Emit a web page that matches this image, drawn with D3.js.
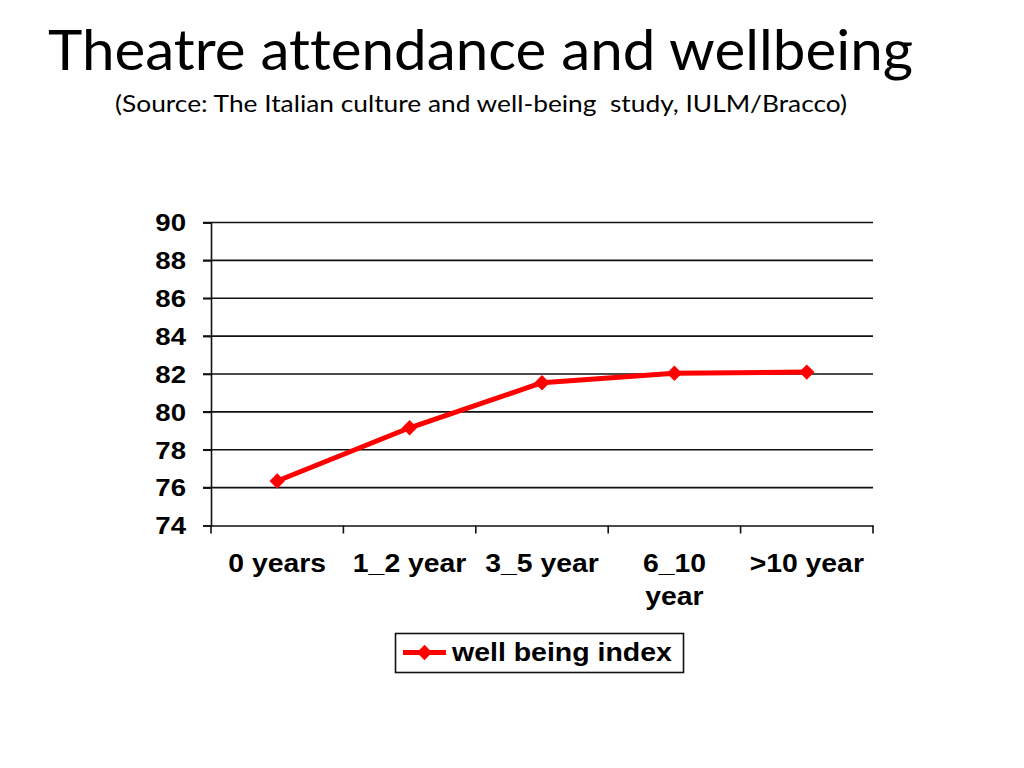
<!DOCTYPE html>
<html><head><meta charset="utf-8">
<script src="https://cdn.jsdelivr.net/npm/d3@7"></script>
<style>body{margin:0;background:#fff}svg{display:block}text{font-variant-ligatures:none}</style>
</head><body>
<svg id="c" width="1024" height="768"></svg>
<script>
const categories = [["0 years"], ["1_2 year"], ["3_5 year"], ["6_10", "year"], [">10 year"]];
const categoryKeys = ["0 years", "1_2 year", "3_5 year", "6_10 year", ">10 year"];
const wellBeing = [76.35, 79.16, 81.54, 82.04, 82.1];
const yTicks = [74, 76, 78, 80, 82, 84, 86, 88, 90];
const seriesName = "well being index";
const titleText = "Theatre attendance and wellbeing";
const subtitleText = "(Source: The Italian culture and well-being  study, IULM/Bracco)";

const svg = d3.select("#c");
const pLeft = 211, pRight = 873, pTop = 222.5, pBottom = 525.5;
const x = d3.scaleBand().domain(categoryKeys).range([pLeft, pRight]);
const y = d3.scaleLinear().domain([74, 90]).range([pBottom, pTop]);

function stretch(sel, f) {
  sel.each(function() {
    const L = this.getComputedTextLength();
    d3.select(this).attr("textLength", L * f).attr("lengthAdjust", "spacingAndGlyphs");
  });
}

const t1 = svg.append("text").attr("x", 48).attr("y", 70).attr("font-family", "Lato, 'Open Sans', sans-serif")
  .attr("font-size", 56).attr("fill", "#000").style("white-space", "pre").text(titleText);
t1.attr("textLength", 865).attr("lengthAdjust", "spacingAndGlyphs");
const t2 = svg.append("text").attr("x", 115).attr("y", 112).attr("font-family", "Lato, 'Open Sans', sans-serif")
  .attr("font-size", 23).attr("fill", "#000").style("white-space", "pre").text(subtitleText);
t2.attr("textLength", 732).attr("lengthAdjust", "spacingAndGlyphs");

// gridlines
svg.append("g").selectAll("line").data(yTicks.filter(d => d !== 74)).join("line")
  .attr("x1", pLeft - 8).attr("x2", pRight).attr("y1", d => y(d)).attr("y2", d => y(d))
  .attr("stroke", "#111").attr("stroke-width", 1.6);

// y axis
const ya = svg.append("g").attr("transform", `translate(${pLeft},0)`)
  .call(d3.axisLeft(y).tickValues(yTicks).tickSize(8).tickPadding(17).tickFormat(d3.format("d")));
ya.select(".domain").attr("stroke", "#111").attr("stroke-width", 1.6);
ya.selectAll(".tick line").attr("stroke", "#111").attr("stroke-width", 1.6);
ya.selectAll("text").attr("font-family", "'Liberation Sans', Arial, sans-serif").attr("font-weight", "bold")
  .attr("font-size", 23).attr("fill", "#000").attr("dy", "0.36em");
stretch(ya.selectAll("text"), 1.2);

// x axis
const xa = svg.append("g").attr("transform", `translate(0,${pBottom})`)
  .call(d3.axisBottom(x).tickSize(0).tickFormat(""));
xa.select(".domain").attr("stroke", "#111").attr("stroke-width", 1.6);
const xTickPos = categoryKeys.map(k => x(k)).concat([pRight]);
xa.append("g").selectAll("line").data(xTickPos).join("line")
  .attr("x1", d => d).attr("x2", d => d).attr("y1", 0).attr("y2", 8)
  .attr("stroke", "#111").attr("stroke-width", 1.6);

const xl = svg.append("g").selectAll("text").data(categories).join("text")
  .attr("x", (d, i) => x(categoryKeys[i]) + x.bandwidth() / 2)
  .attr("y", 572).attr("text-anchor", "middle")
  .attr("font-family", "'Liberation Sans', Arial, sans-serif").attr("font-weight", "bold")
  .attr("font-size", 26).attr("fill", "#000");
xl.selectAll("tspan").data(d => d).join("tspan")
  .attr("x", function() { return this.parentNode.getAttribute("x"); })
  .attr("dy", (d, i) => i === 0 ? 0 : 33).text(d => d);
xl.selectAll("tspan").each(function() {
  const L = this.getComputedTextLength();
  d3.select(this).attr("textLength", L * 1.09).attr("lengthAdjust", "spacingAndGlyphs");
});

// line
const pts = wellBeing.map((v, i) => [x(categoryKeys[i]) + x.bandwidth() / 2, y(v)]);
svg.append("path").attr("d", d3.line()(pts)).attr("fill", "none")
  .attr("stroke", "#ff0000").attr("stroke-width", 5).attr("stroke-linejoin", "round");
const diamond = d3.symbol().type(d3.symbolDiamond2).size(150);
svg.append("g").selectAll("path").data(pts).join("path")
  .attr("transform", d => `translate(${d[0]},${d[1]})`)
  .attr("d", diamond).attr("fill", "#ff0000");

// legend
const lg = svg.append("g");
lg.append("rect").attr("x", 395.5).attr("y", 633.5).attr("width", 288).attr("height", 39)
  .attr("fill", "#fff").attr("stroke", "#111").attr("stroke-width", 1.6);
lg.append("line").attr("x1", 403).attr("x2", 446).attr("y1", 652.5).attr("y2", 652.5)
  .attr("stroke", "#ff0000").attr("stroke-width", 5);
lg.append("path").attr("transform", "translate(424.5,652.5)").attr("d", diamond).attr("fill", "#ff0000");
const lt = lg.append("text").attr("x", 452).attr("y", 661).attr("font-family", "'Liberation Sans', Arial, sans-serif")
  .attr("font-weight", "bold").attr("font-size", 26).attr("fill", "#000").text(seriesName);
stretch(lt, 1.095);
</script>
</body></html>
